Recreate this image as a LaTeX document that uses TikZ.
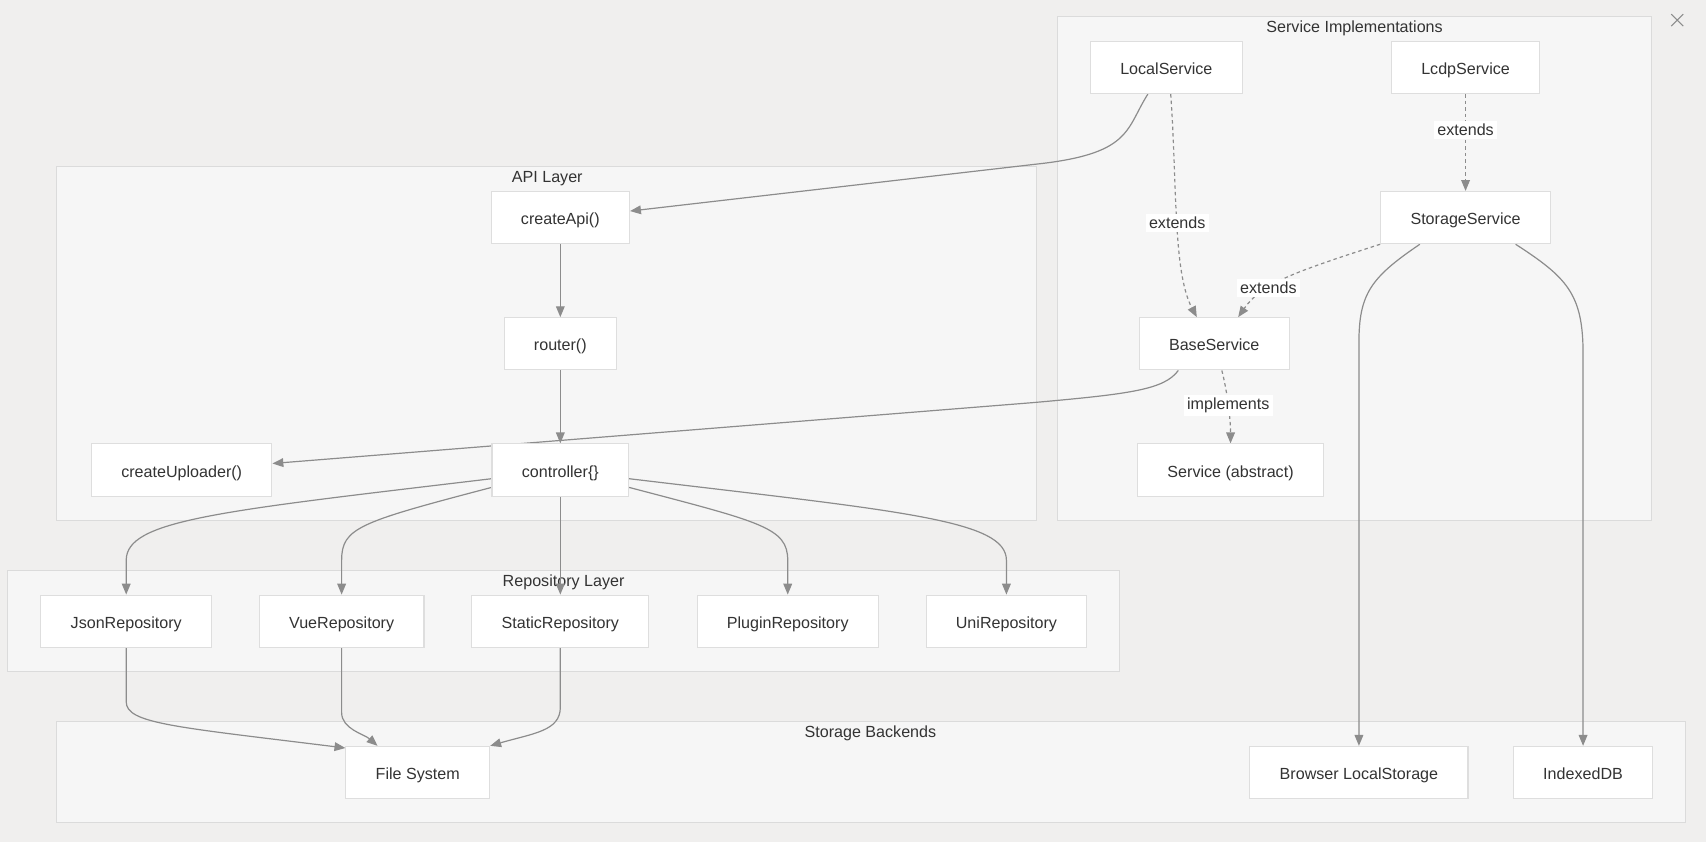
\documentclass[tikz,border=0pt]{standalone}
\usepackage{fontspec}
\setmainfont{Liberation Sans}
\usetikzlibrary{arrows.meta}
\definecolor{fondo}{RGB}{240,239,238}
\definecolor{grupofill}{RGB}{246,246,246}
\definecolor{bordegrupo}{RGB}{219,219,219}
\definecolor{bordecaja}{RGB}{222,222,222}
\definecolor{linea}{RGB}{140,140,140}
\definecolor{texto}{RGB}{51,51,51}
\pgfdeclarelayer{capafondo}
\pgfdeclarelayer{capaflechas}
\pgfsetlayers{capafondo,capaflechas,main}
\begin{document}
\begin{tikzpicture}[x=0.5pt, y=-0.5pt, >={Triangle[length=5pt,width=4pt]},
  caja/.style={draw=bordecaja, fill=white, line width=0.5pt, minimum height=24pt, inner xsep=13.7pt, text height=1.6ex, text depth=0.35ex, text=texto, font=\fontsize{7.4}{9}\selectfont},
  grupo/.style={draw=bordegrupo, fill=grupofill, line width=0.5pt},
  titulo/.style={text=texto, font=\fontsize{7.4}{9}\selectfont, inner sep=0pt},
  flecha/.style={->, draw=linea, line width=0.55pt},
  rayas/.style={flecha, dash pattern=on 1.6pt off 1.4pt},
  etiq/.style={fill=white, text=texto, font=\fontsize{7.4}{9}\selectfont, inner sep=1.5pt}]
  \useasboundingbox (0,0) rectangle (1568,774);

  % Grupos
  \begin{pgfonlayer}{capafondo}
    \fill[fondo] (0,0) rectangle (1568,774);
    \draw[grupo] (972,15) rectangle (1518,478);
    \draw[grupo] (52,153) rectangle (953,478);
    \draw[grupo] (7,524) rectangle (1029,617);
    \draw[grupo] (52,663) rectangle (1549,756);
    \node[titulo] (tserv) at (1245,26) {Service Implementations};
    \node[titulo] (tapi) at (503,164) {API Layer};
    \node[titulo] (trepo) at (518,535) {Repository Layer};
    \node[titulo] (tstor) at (800,674) {Storage Backends};
    \draw[linea, line width=0.5pt] (1536,13) -- (1547,24) (1547,13) -- (1536,24);
  \end{pgfonlayer}

  % Nodos
  \node[caja] (ls) at (1072,62) {LocalService};
  \node[caja] (lcdp) at (1347,62) {LcdpService};
  \node[caja] (storage) at (1347,200) {StorageService};
  \node[caja] (base) at (1116,316) {BaseService};
  \node[caja] (serv) at (1131,432) {Service (abstract)};

  \node[caja] (api) at (515,200) {createApi()};
  \node[caja] (router) at (515,316) {router()};
  \node[caja] (ctrl) at (515,432) {controller\{\}};
  \node[caja] (up) at (167,432) {createUploader()};

  \node[caja] (json) at (116,571) {JsonRepository};
  \node[caja] (vue) at (314,571) {VueRepository};
  \node[caja] (static) at (515,571) {StaticRepository};
  \node[caja] (plugin) at (724,571) {PluginRepository};
  \node[caja] (uni) at (925,571) {UniRepository};

  \node[caja] (fs) at (384,710) {File System};
  \node[caja] (browser) at (1249,710) {Browser LocalStorage};
  \node[caja] (idb) at (1455,710) {IndexedDB};

  % Flechas
  \begin{pgfonlayer}{capaflechas}
    \draw[flecha] ([xshift=-8.5pt]ls.south) .. controls (1035,118) and (1040,140) .. (960,150) -- ([yshift=3pt]api.east);
    \draw[rayas] ([xshift=2pt]ls.south) .. controls (1082,170) and (1078,250) .. ([xshift=-8pt]base.north) node[etiq, midway] {extends};
    \draw[rayas] (lcdp) -- node[etiq, pos=0.37] {extends} (storage);
    \draw[rayas] (storage.south west) .. controls (1190,250) and (1160,260) .. ([xshift=11pt]base.north) node[etiq, pos=0.65] {extends};
    \draw[rayas] ([xshift=3.5pt]base.south) .. controls (1128,360) and (1131,385) .. (serv.north) node[etiq, midway] {implements};
    \draw[flecha] ([xshift=-16.5pt]base.south) .. controls (1070,358) and (1040,362) .. (950,370) -- ([yshift=3pt]up.east);

    \draw[flecha] (api) -- (router);
    \draw[flecha] (router) -- (ctrl);
    \draw[flecha] ([yshift=-4pt]ctrl.west) .. controls (200,470) and (116,478) .. (116,515) -- (json.north);
    \draw[flecha] ([yshift=-8pt]ctrl.west) .. controls (330,480) and (314,485) .. (314,515) -- (vue.north);
    \draw[flecha] (ctrl) -- (static);
    \draw[flecha] ([yshift=-8pt]ctrl.east) .. controls (700,480) and (724,485) .. (724,515) -- (plugin.north);
    \draw[flecha] ([yshift=-4pt]ctrl.east) .. controls (830,470) and (925,478) .. (925,515) -- (uni.north);

    \draw[flecha] (json.south) -- (116,645) .. controls (116,665) and (160,668) .. ([yshift=-1pt]fs.north west);
    \draw[flecha] (vue.south) -- (314,655) .. controls (314,670) and (335,675) .. ([xshift=-18.5pt]fs.north);
    \draw[flecha] (static.south) -- (515,650) .. controls (515,672) and (490,674) .. (fs.north east);

    \draw[flecha] ([xshift=-21pt]storage.south) .. controls (1260,255) and (1249,270) .. (1249,315) -- (browser.north);
    \draw[flecha] ([xshift=23pt]storage.south) .. controls (1440,255) and (1455,270) .. (1455,325) -- (idb.north);
  \end{pgfonlayer}
\end{tikzpicture}
\end{document}
